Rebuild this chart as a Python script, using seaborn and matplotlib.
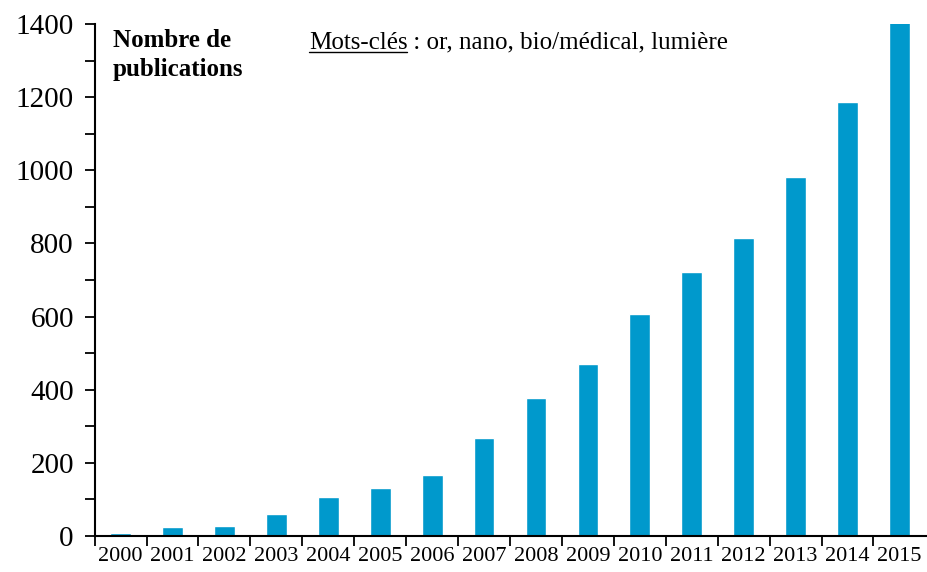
import pandas as pd
import seaborn as sns
import matplotlib.pyplot as plt
from matplotlib.ticker import MultipleLocator

years = ['2000', '2001', '2002', '2003', '2004', '2005', '2006', '2007',
         '2008', '2009', '2010', '2011', '2012', '2013', '2014', '2015']
publications = [9, 25, 27, 60, 107, 130, 167, 268,
                377, 470, 607, 722, 815, 982, 1187, 1405]

df = pd.DataFrame({'annee': years, 'publications': publications})

sns.set_style('ticks')
plt.rcParams['font.family'] = ['Liberation Serif', 'DejaVu Serif']
plt.rcParams['text.color'] = 'black'
plt.rcParams['xtick.color'] = 'black'
plt.rcParams['ytick.color'] = 'black'

fig = plt.figure(figsize=(9.28, 5.72), dpi=100)
ax = fig.add_axes([0.102, 0.063, 0.898, 0.895])

sns.barplot(x='annee', y='publications', data=df, color='#0099cc',
            saturation=1, width=0.4, ax=ax)

ax.set_ylim(0, 1400)
ax.set_xlim(-0.5, 15.55)
ax.yaxis.set_major_locator(MultipleLocator(200))
ax.yaxis.set_minor_locator(MultipleLocator(100))
ax.tick_params(axis='y', which='major', labelsize=21, length=7, width=1.3, pad=8)
ax.tick_params(axis='y', which='minor', length=7, width=1.3)
ax.tick_params(axis='x', which='major', length=0, labelsize=16, pad=8)
ax.set_xticks([i + 0.5 for i in range(-1, 15)], minor=True)
ax.tick_params(axis='x', which='minor', length=7, width=1.3)
for s in ['top', 'right']:
    ax.spines[s].set_visible(False)
for s in ['left', 'bottom']:
    ax.spines[s].set_linewidth(1.5)
    ax.spines[s].set_color('black')
ax.set_xlabel('')
ax.set_ylabel('')

ax.text(0.022, 0.99, 'Nombre de\npublications', transform=ax.transAxes,
        fontsize=18, fontweight='bold', ha='left', va='top', linespacing=1.3)

t1 = ax.text(0.257, 0.985, 'Mots-clés', transform=ax.transAxes,
             fontsize=18, ha='left', va='top')
fig.canvas.draw()
r = fig.canvas.get_renderer()
bb = t1.get_window_extent(r).transformed(ax.transAxes.inverted())
ax.plot([bb.x0, bb.x1], [bb.y0 + 0.003, bb.y0 + 0.003], transform=ax.transAxes,
        color='black', lw=1, clip_on=False)
ax.text(bb.x1, 0.985, ' : or, nano, bio/médical, lumière', transform=ax.transAxes,
        fontsize=18, ha='left', va='top')

fig.savefig('out.png', dpi=100)
